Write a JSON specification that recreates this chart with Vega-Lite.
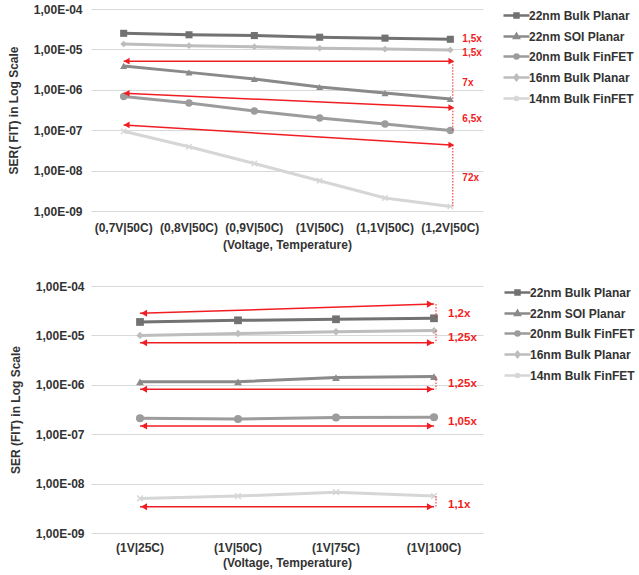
{
  "$schema": "https://vega.github.io/schema/vega-lite/v6.json",
  "background": "white",
  "padding": {"left": 7, "top": 3, "right": 0, "bottom": 6},
  "spacing": 30,
  "config": {
    "view": {"stroke": null},
    "font": "Liberation Sans",
    "axis": {
      "labelFont": "Liberation Sans", "labelFontWeight": "bold", "labelFontSize": 12, "labelColor": "#333333",
      "titleFont": "Liberation Sans", "titleFontWeight": "bold", "titleFontSize": 12, "titleColor": "#333333",
      "ticks": false, "tickSize": 0, "domain": false, "gridColor": "#d9d9d9", "gridWidth": 1
    },
    "legend": {
      "labelFont": "Liberation Sans", "labelFontWeight": "bold", "labelFontSize": 12, "labelColor": "#333333",
      "symbolSize": 100, "rowPadding": 6, "labelOffset": 6, "padding": 0, "offset": 27
    }
  },
  "datasets": {
    "top": [
      {"series": "22nm Bulk Planar", "cond": "(0,7V|50C)", "value": 2.5e-5},
      {"series": "22nm Bulk Planar", "cond": "(0,8V|50C)", "value": 2.3e-5},
      {"series": "22nm Bulk Planar", "cond": "(0,9V|50C)", "value": 2.2e-5},
      {"series": "22nm Bulk Planar", "cond": "(1V|50C)", "value": 2.0e-5},
      {"series": "22nm Bulk Planar", "cond": "(1,1V|50C)", "value": 1.9e-5},
      {"series": "22nm Bulk Planar", "cond": "(1,2V|50C)", "value": 1.78e-5},
      {"series": "22nm SOI Planar", "cond": "(0,7V|50C)", "value": 3.9e-6},
      {"series": "22nm SOI Planar", "cond": "(0,8V|50C)", "value": 2.7e-6},
      {"series": "22nm SOI Planar", "cond": "(0,9V|50C)", "value": 1.85e-6},
      {"series": "22nm SOI Planar", "cond": "(1V|50C)", "value": 1.17e-6},
      {"series": "22nm SOI Planar", "cond": "(1,1V|50C)", "value": 8.3e-7},
      {"series": "22nm SOI Planar", "cond": "(1,2V|50C)", "value": 5.9e-7},
      {"series": "20nm Bulk FinFET", "cond": "(0,7V|50C)", "value": 6.8e-7},
      {"series": "20nm Bulk FinFET", "cond": "(0,8V|50C)", "value": 4.7e-7},
      {"series": "20nm Bulk FinFET", "cond": "(0,9V|50C)", "value": 3.0e-7},
      {"series": "20nm Bulk FinFET", "cond": "(1V|50C)", "value": 2.0e-7},
      {"series": "20nm Bulk FinFET", "cond": "(1,1V|50C)", "value": 1.42e-7},
      {"series": "20nm Bulk FinFET", "cond": "(1,2V|50C)", "value": 9.8e-8},
      {"series": "16nm Bulk Planar", "cond": "(0,7V|50C)", "value": 1.36e-5},
      {"series": "16nm Bulk Planar", "cond": "(0,8V|50C)", "value": 1.24e-5},
      {"series": "16nm Bulk Planar", "cond": "(0,9V|50C)", "value": 1.17e-5},
      {"series": "16nm Bulk Planar", "cond": "(1V|50C)", "value": 1.07e-5},
      {"series": "16nm Bulk Planar", "cond": "(1,1V|50C)", "value": 1.02e-5},
      {"series": "16nm Bulk Planar", "cond": "(1,2V|50C)", "value": 9.7e-6},
      {"series": "14nm Bulk FinFET", "cond": "(0,7V|50C)", "value": 9.4e-8},
      {"series": "14nm Bulk FinFET", "cond": "(0,8V|50C)", "value": 3.9e-8},
      {"series": "14nm Bulk FinFET", "cond": "(0,9V|50C)", "value": 1.5e-8},
      {"series": "14nm Bulk FinFET", "cond": "(1V|50C)", "value": 5.6e-9},
      {"series": "14nm Bulk FinFET", "cond": "(1,1V|50C)", "value": 2.1e-9},
      {"series": "14nm Bulk FinFET", "cond": "(1,2V|50C)", "value": 1.3e-9}
    ],
    "topArrows": [
      {"c1": "(0,7V|50C)", "v1": 5.1e-6, "c2": "(1,2V|50C)", "v2": 5.1e-6},
      {"c1": "(0,7V|50C)", "v1": 8.2e-7, "c2": "(1,2V|50C)", "v2": 3.6e-7},
      {"c1": "(0,7V|50C)", "v1": 1.35e-7, "c2": "(1,2V|50C)", "v2": 4.3e-8}
    ],
    "topDots": [
      {"c": "(1,2V|50C)", "v1": 5.1e-6, "v2": 5.9e-7},
      {"c": "(1,2V|50C)", "v1": 3.6e-7, "v2": 9.8e-8},
      {"c": "(1,2V|50C)", "v1": 4.3e-8, "v2": 1.3e-9}
    ],
    "topLabels": [
      {"c": "(1,2V|50C)", "v": 1.81e-5, "t": "1,5x"},
      {"c": "(1,2V|50C)", "v": 8.1e-6, "t": "1,5x"},
      {"c": "(1,2V|50C)", "v": 1.47e-6, "t": "7x"},
      {"c": "(1,2V|50C)", "v": 1.9e-7, "t": "6,5x"},
      {"c": "(1,2V|50C)", "v": 6.6e-9, "t": "72x"}
    ],
    "bottom": [
      {"series": "22nm Bulk Planar", "cond": "(1V|25C)", "value": 1.87e-5},
      {"series": "22nm Bulk Planar", "cond": "(1V|50C)", "value": 2.02e-5},
      {"series": "22nm Bulk Planar", "cond": "(1V|75C)", "value": 2.12e-5},
      {"series": "22nm Bulk Planar", "cond": "(1V|100C)", "value": 2.22e-5},
      {"series": "22nm SOI Planar", "cond": "(1V|25C)", "value": 1.15e-6},
      {"series": "22nm SOI Planar", "cond": "(1V|50C)", "value": 1.15e-6},
      {"series": "22nm SOI Planar", "cond": "(1V|75C)", "value": 1.4e-6},
      {"series": "22nm SOI Planar", "cond": "(1V|100C)", "value": 1.47e-6},
      {"series": "20nm Bulk FinFET", "cond": "(1V|25C)", "value": 2.1e-7},
      {"series": "20nm Bulk FinFET", "cond": "(1V|50C)", "value": 2.03e-7},
      {"series": "20nm Bulk FinFET", "cond": "(1V|75C)", "value": 2.17e-7},
      {"series": "20nm Bulk FinFET", "cond": "(1V|100C)", "value": 2.2e-7},
      {"series": "16nm Bulk Planar", "cond": "(1V|25C)", "value": 1.0e-5},
      {"series": "16nm Bulk Planar", "cond": "(1V|50C)", "value": 1.09e-5},
      {"series": "16nm Bulk Planar", "cond": "(1V|75C)", "value": 1.19e-5},
      {"series": "16nm Bulk Planar", "cond": "(1V|100C)", "value": 1.25e-5},
      {"series": "14nm Bulk FinFET", "cond": "(1V|25C)", "value": 5.0e-9},
      {"series": "14nm Bulk FinFET", "cond": "(1V|50C)", "value": 5.6e-9},
      {"series": "14nm Bulk FinFET", "cond": "(1V|75C)", "value": 6.7e-9},
      {"series": "14nm Bulk FinFET", "cond": "(1V|100C)", "value": 5.6e-9}
    ],
    "bottomArrows": [
      {"c1": "(1V|25C)", "v1": 2.8e-5, "c2": "(1V|100C)", "v2": 4.3e-5},
      {"c1": "(1V|25C)", "v1": 7.1e-6, "c2": "(1V|100C)", "v2": 7.1e-6},
      {"c1": "(1V|25C)", "v1": 8.1e-7, "c2": "(1V|100C)", "v2": 8.1e-7},
      {"c1": "(1V|25C)", "v1": 1.47e-7, "c2": "(1V|100C)", "v2": 1.47e-7},
      {"c1": "(1V|25C)", "v1": 3.4e-9, "c2": "(1V|100C)", "v2": 3.4e-9}
    ],
    "bottomDots": [
      {"c": "(1V|100C)", "v1": 4.3e-5, "v2": 2.22e-5},
      {"c": "(1V|100C)", "v1": 1.25e-5, "v2": 7.1e-6},
      {"c": "(1V|100C)", "v1": 1.47e-6, "v2": 8.1e-7},
      {"c": "(1V|100C)", "v1": 5.6e-9, "v2": 3.4e-9}
    ],
    "bottomLabels": [
      {"c": "(1V|100C)", "v": 2.67e-5, "t": "1,2x"},
      {"c": "(1V|100C)", "v": 8.7e-6, "t": "1,25x"},
      {"c": "(1V|100C)", "v": 1.06e-6, "t": "1,25x"},
      {"c": "(1V|100C)", "v": 1.77e-7, "t": "1,05x"},
      {"c": "(1V|100C)", "v": 3.63e-9, "t": "1,1x"}
    ]
  },
  "resolve": {
    "scale": {"x": "independent", "y": "independent", "color": "independent"},
    "legend": {"color": "independent"}
  },
  "vconcat": [
    {
      "width": 392,
      "height": 202,
      "layer": [
        {
          "data": {"name": "top"},
          "mark": {"type": "line", "strokeWidth": 3},
          "encoding": {
            "x": {"field": "cond", "type": "ordinal",
              "scale": {"domain": ["(0,7V|50C)", "(0,8V|50C)", "(0,9V|50C)", "(1V|50C)", "(1,1V|50C)", "(1,2V|50C)"]},
              "axis": {"title": "(Voltage, Temperature)", "labelAngle": 0, "labelPadding": 11, "titlePadding": 6, "grid": false}},
            "y": {"field": "value", "type": "quantitative",
              "scale": {"type": "log", "domain": [1e-9, 1e-4], "nice": false},
              "axis": {"title": "SER( FIT) in Log Scale", "values": [1e-9, 1e-8, 1e-7, 1e-6, 1e-5, 1e-4], "labelPadding": 9, "titlePadding": 13,
                "labelExpr": "'1,00E-' + (round(-log(datum.value)/LN10) < 10 ? '0' : '') + round(-log(datum.value)/LN10)"}},
            "color": {"field": "series", "type": "nominal",
              "scale": {"domain": ["22nm Bulk Planar", "22nm SOI Planar", "20nm Bulk FinFET", "16nm Bulk Planar", "14nm Bulk FinFET"],
                "range": ["#727272", "#8a8a8a", "#9c9c9c", "#bdbdbd", "#d6d6d6"]},
              "legend": {"title": null, "orient": "right",
                "encoding": {"symbols": {
                  "shape": {"value": {"expr": "datum.value === '22nm Bulk Planar' ? 'M-2.6,0H2.6M-0.4,-0.4H0.4V0.4H-0.4Z' : datum.value === '22nm SOI Planar' ? 'M-2.6,0H2.6M0,-0.5L0.45,0.3H-0.45Z' : datum.value === '20nm Bulk FinFET' ? 'M-2.6,0H2.6M-0.4,0A0.4,0.4 0 1,1 0.4,0A0.4,0.4 0 1,1 -0.4,0Z' : datum.value === '16nm Bulk Planar' ? 'M-2.6,0H2.6M0,-0.5L0.4,0L0,0.5L-0.4,0Z' : 'M-2.6,0H2.6M-0.4,-0.4L0.4,0.4M0.4,-0.4L-0.4,0.4'"}},
                  "fill": {"value": {"expr": "datum.value === '22nm Bulk Planar' ? '#727272' : datum.value === '22nm SOI Planar' ? '#8a8a8a' : datum.value === '20nm Bulk FinFET' ? '#9c9c9c' : datum.value === '16nm Bulk Planar' ? '#bdbdbd' : '#d6d6d6'"}},
                  "stroke": {"value": {"expr": "datum.value === '22nm Bulk Planar' ? '#727272' : datum.value === '22nm SOI Planar' ? '#8a8a8a' : datum.value === '20nm Bulk FinFET' ? '#9c9c9c' : datum.value === '16nm Bulk Planar' ? '#bdbdbd' : '#d6d6d6'"}},
                  "strokeWidth": {"value": 2.5},
                  "opacity": {"value": 1}
                }}}}
          }
        },
        {
          "data": {"name": "top"},
          "transform": [{"filter": "datum.series === '22nm Bulk Planar'"}],
          "mark": {"type": "point", "shape": "square", "filled": true, "size": 50, "opacity": 1, "color": "#727272"},
          "encoding": {"x": {"field": "cond", "type": "ordinal"}, "y": {"field": "value", "type": "quantitative"}}
        },
        {
          "data": {"name": "top"},
          "transform": [{"filter": "datum.series === '22nm SOI Planar'"}],
          "mark": {"type": "point", "shape": "triangle-up", "filled": true, "size": 50, "opacity": 1, "color": "#8a8a8a"},
          "encoding": {"x": {"field": "cond", "type": "ordinal"}, "y": {"field": "value", "type": "quantitative"}}
        },
        {
          "data": {"name": "top"},
          "transform": [{"filter": "datum.series === '20nm Bulk FinFET'"}],
          "mark": {"type": "point", "shape": "circle", "filled": true, "size": 55, "opacity": 1, "color": "#9c9c9c"},
          "encoding": {"x": {"field": "cond", "type": "ordinal"}, "y": {"field": "value", "type": "quantitative"}}
        },
        {
          "data": {"name": "top"},
          "transform": [{"filter": "datum.series === '16nm Bulk Planar'"}],
          "mark": {"type": "point", "shape": "diamond", "filled": true, "size": 45, "opacity": 1, "color": "#bdbdbd"},
          "encoding": {"x": {"field": "cond", "type": "ordinal"}, "y": {"field": "value", "type": "quantitative"}}
        },
        {
          "data": {"name": "top"},
          "transform": [{"filter": "datum.series === '14nm Bulk FinFET'"}],
          "mark": {"type": "point", "shape": "M-1,-0.7L-0.7,-1L0,-0.3L0.7,-1L1,-0.7L0.3,0L1,0.7L0.7,1L0,0.3L-0.7,1L-1,0.7L-0.3,0Z", "filled": true, "size": 40, "opacity": 1, "color": "#d6d6d6"},
          "encoding": {"x": {"field": "cond", "type": "ordinal"}, "y": {"field": "value", "type": "quantitative"}}
        },
        {
          "data": {"name": "topArrows"},
          "mark": {"type": "rule", "color": "#f01e23", "strokeWidth": 1.5},
          "encoding": {
            "x": {"field": "c1", "type": "ordinal"},
            "x2": {"field": "c2"},
            "y": {"field": "v1", "type": "quantitative"},
            "y2": {"field": "v2"}
          }
        },
        {
          "data": {"name": "topArrows"},
          "mark": {"type": "point", "shape": "triangle-left", "filled": true, "size": 45, "color": "#f01e23", "opacity": 1, "xOffset": 3},
          "encoding": {
            "x": {"field": "c1", "type": "ordinal"},
            "y": {"field": "v1", "type": "quantitative"}
          }
        },
        {
          "data": {"name": "topArrows"},
          "mark": {"type": "point", "shape": "triangle-right", "filled": true, "size": 45, "color": "#f01e23", "opacity": 1, "xOffset": 1},
          "encoding": {
            "x": {"field": "c2", "type": "ordinal"},
            "y": {"field": "v2", "type": "quantitative"}
          }
        },
        {
          "data": {"name": "topDots"},
          "mark": {"type": "rule", "color": "#f01e23", "strokeWidth": 1, "strokeDash": [1.5, 1.5], "xOffset": 2.5},
          "encoding": {
            "x": {"field": "c", "type": "ordinal"},
            "y": {"field": "v1", "type": "quantitative"},
            "y2": {"field": "v2"}
          }
        },
        {
          "data": {"name": "topLabels"},
          "mark": {"type": "text", "color": "#f01e23", "fontWeight": "bold", "fontSize": 10, "align": "left", "baseline": "middle", "dx": 12, "font": "Liberation Sans"},
          "encoding": {
            "x": {"field": "c", "type": "ordinal"},
            "y": {"field": "v", "type": "quantitative"},
            "text": {"field": "t"}
          }
        }
      ]
    },
    {
      "width": 392,
      "height": 247,
      "layer": [
        {
          "data": {"name": "bottom"},
          "mark": {"type": "line", "strokeWidth": 3},
          "encoding": {
            "x": {"field": "cond", "type": "ordinal",
              "scale": {"domain": ["(1V|25C)", "(1V|50C)", "(1V|75C)", "(1V|100C)"]},
              "axis": {"title": "(Voltage, Temperature)", "labelAngle": 0, "labelPadding": 9, "titlePadding": 4, "grid": false}},
            "y": {"field": "value", "type": "quantitative",
              "scale": {"type": "log", "domain": [1e-9, 1e-4], "nice": false},
              "axis": {"title": "SER (FIT) in Log Scale", "values": [1e-9, 1e-8, 1e-7, 1e-6, 1e-5, 1e-4], "labelPadding": 7, "titlePadding": 13,
                "labelExpr": "'1,00E-' + (round(-log(datum.value)/LN10) < 10 ? '0' : '') + round(-log(datum.value)/LN10)"}},
            "color": {"field": "series", "type": "nominal",
              "scale": {"domain": ["22nm Bulk Planar", "22nm SOI Planar", "20nm Bulk FinFET", "16nm Bulk Planar", "14nm Bulk FinFET"],
                "range": ["#727272", "#8a8a8a", "#9c9c9c", "#bdbdbd", "#d6d6d6"]},
              "legend": {"title": null, "orient": "right", "offset": 28,
                "encoding": {"symbols": {
                  "shape": {"value": {"expr": "datum.value === '22nm Bulk Planar' ? 'M-2.6,0H2.6M-0.4,-0.4H0.4V0.4H-0.4Z' : datum.value === '22nm SOI Planar' ? 'M-2.6,0H2.6M0,-0.5L0.45,0.3H-0.45Z' : datum.value === '20nm Bulk FinFET' ? 'M-2.6,0H2.6M-0.4,0A0.4,0.4 0 1,1 0.4,0A0.4,0.4 0 1,1 -0.4,0Z' : datum.value === '16nm Bulk Planar' ? 'M-2.6,0H2.6M0,-0.5L0.4,0L0,0.5L-0.4,0Z' : 'M-2.6,0H2.6M-0.4,-0.4L0.4,0.4M0.4,-0.4L-0.4,0.4'"}},
                  "fill": {"value": {"expr": "datum.value === '22nm Bulk Planar' ? '#727272' : datum.value === '22nm SOI Planar' ? '#8a8a8a' : datum.value === '20nm Bulk FinFET' ? '#9c9c9c' : datum.value === '16nm Bulk Planar' ? '#bdbdbd' : '#d6d6d6'"}},
                  "stroke": {"value": {"expr": "datum.value === '22nm Bulk Planar' ? '#727272' : datum.value === '22nm SOI Planar' ? '#8a8a8a' : datum.value === '20nm Bulk FinFET' ? '#9c9c9c' : datum.value === '16nm Bulk Planar' ? '#bdbdbd' : '#d6d6d6'"}},
                  "strokeWidth": {"value": 2.5},
                  "opacity": {"value": 1}
                }}}}
          }
        },
        {
          "data": {"name": "bottom"},
          "transform": [{"filter": "datum.series === '22nm Bulk Planar'"}],
          "mark": {"type": "point", "shape": "square", "filled": true, "size": 60, "opacity": 1, "color": "#727272"},
          "encoding": {"x": {"field": "cond", "type": "ordinal"}, "y": {"field": "value", "type": "quantitative"}}
        },
        {
          "data": {"name": "bottom"},
          "transform": [{"filter": "datum.series === '22nm SOI Planar'"}],
          "mark": {"type": "point", "shape": "triangle-up", "filled": true, "size": 60, "opacity": 1, "color": "#8a8a8a"},
          "encoding": {"x": {"field": "cond", "type": "ordinal"}, "y": {"field": "value", "type": "quantitative"}}
        },
        {
          "data": {"name": "bottom"},
          "transform": [{"filter": "datum.series === '20nm Bulk FinFET'"}],
          "mark": {"type": "point", "shape": "circle", "filled": true, "size": 65, "opacity": 1, "color": "#9c9c9c"},
          "encoding": {"x": {"field": "cond", "type": "ordinal"}, "y": {"field": "value", "type": "quantitative"}}
        },
        {
          "data": {"name": "bottom"},
          "transform": [{"filter": "datum.series === '16nm Bulk Planar'"}],
          "mark": {"type": "point", "shape": "diamond", "filled": true, "size": 55, "opacity": 1, "color": "#bdbdbd"},
          "encoding": {"x": {"field": "cond", "type": "ordinal"}, "y": {"field": "value", "type": "quantitative"}}
        },
        {
          "data": {"name": "bottom"},
          "transform": [{"filter": "datum.series === '14nm Bulk FinFET'"}],
          "mark": {"type": "point", "shape": "M-1,-0.7L-0.7,-1L0,-0.3L0.7,-1L1,-0.7L0.3,0L1,0.7L0.7,1L0,0.3L-0.7,1L-1,0.7L-0.3,0Z", "filled": true, "size": 45, "opacity": 1, "color": "#d6d6d6"},
          "encoding": {"x": {"field": "cond", "type": "ordinal"}, "y": {"field": "value", "type": "quantitative"}}
        },
        {
          "data": {"name": "bottomArrows"},
          "mark": {"type": "rule", "color": "#f01e23", "strokeWidth": 1.5},
          "encoding": {
            "x": {"field": "c1", "type": "ordinal"},
            "x2": {"field": "c2"},
            "y": {"field": "v1", "type": "quantitative"},
            "y2": {"field": "v2"}
          }
        },
        {
          "data": {"name": "bottomArrows"},
          "mark": {"type": "point", "shape": "triangle-left", "filled": true, "size": 50, "color": "#f01e23", "opacity": 1, "xOffset": 4},
          "encoding": {
            "x": {"field": "c1", "type": "ordinal"},
            "y": {"field": "v1", "type": "quantitative"}
          }
        },
        {
          "data": {"name": "bottomArrows"},
          "mark": {"type": "point", "shape": "triangle-right", "filled": true, "size": 50, "color": "#f01e23", "opacity": 1, "xOffset": -4},
          "encoding": {
            "x": {"field": "c2", "type": "ordinal"},
            "y": {"field": "v2", "type": "quantitative"}
          }
        },
        {
          "data": {"name": "bottomDots"},
          "mark": {"type": "rule", "color": "#f01e23", "strokeWidth": 1, "strokeDash": [1.5, 1.5], "xOffset": 2},
          "encoding": {
            "x": {"field": "c", "type": "ordinal"},
            "y": {"field": "v1", "type": "quantitative"},
            "y2": {"field": "v2"}
          }
        },
        {
          "data": {"name": "bottomLabels"},
          "mark": {"type": "text", "color": "#f01e23", "fontWeight": "bold", "fontSize": 11.5, "align": "left", "baseline": "middle", "dx": 14, "font": "Liberation Sans"},
          "encoding": {
            "x": {"field": "c", "type": "ordinal"},
            "y": {"field": "v", "type": "quantitative"},
            "text": {"field": "t"}
          }
        }
      ]
    }
  ]
}
